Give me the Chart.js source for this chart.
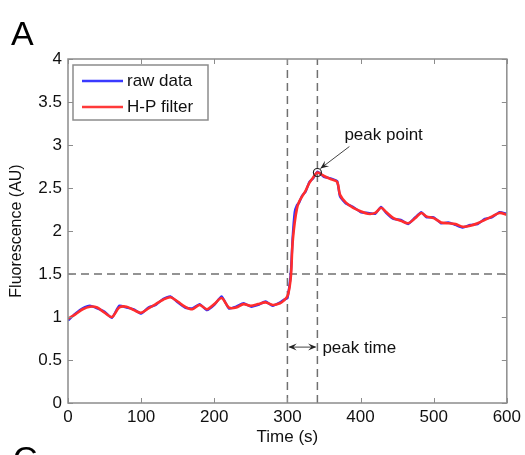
<!DOCTYPE html>
<html>
<head>
<meta charset="utf-8">
<script src="https://cdn.jsdelivr.net/npm/chart.js@4/dist/chart.umd.min.js"></script>
<style>
  html, body { margin: 0; padding: 0; background: #fff; }
  #wrap { width: 525px; height: 455px; position: relative; }
</style>
</head>
<body>
<div id="wrap"><canvas id="fluoChart" width="525" height="455"></canvas></div>
<script>
// * data
const timeS = [0, 10, 20, 30, 40, 50, 60, 70, 80, 90, 100, 110, 120, 130, 140, 150, 160, 170, 180, 190, 200, 210, 220, 230, 240, 250, 260, 270, 280, 290, 295, 300, 303, 305, 307, 310, 313, 316, 320, 325, 330, 335, 341, 350, 360, 368, 372, 380, 390, 400, 410, 420, 428, 435, 445, 455, 465, 475, 483, 490, 500, 510, 520, 530, 540, 550, 560, 570, 580, 590, 600];
const rawData = [0.96, 1.04, 1.10, 1.13, 1.10, 1.06, 0.99, 1.13, 1.11, 1.09, 1.04, 1.11, 1.14, 1.21, 1.24, 1.17, 1.11, 1.10, 1.15, 1.08, 1.14, 1.24, 1.10, 1.12, 1.16, 1.12, 1.14, 1.18, 1.13, 1.17, 1.20, 1.22, 1.38, 1.55, 1.90, 2.22, 2.30, 2.33, 2.41, 2.46, 2.57, 2.61, 2.69, 2.63, 2.61, 2.58, 2.40, 2.32, 2.28, 2.22, 2.21, 2.20, 2.28, 2.21, 2.14, 2.13, 2.08, 2.16, 2.22, 2.16, 2.16, 2.09, 2.10, 2.07, 2.04, 2.07, 2.08, 2.14, 2.16, 2.22, 2.20];
const hpFilter = [0.98, 1.03, 1.09, 1.12, 1.11, 1.05, 1.00, 1.11, 1.12, 1.08, 1.05, 1.10, 1.15, 1.20, 1.23, 1.18, 1.12, 1.09, 1.14, 1.09, 1.15, 1.22, 1.11, 1.11, 1.15, 1.13, 1.15, 1.17, 1.14, 1.16, 1.19, 1.24, 1.35, 1.50, 1.85, 2.10, 2.26, 2.34, 2.40, 2.47, 2.56, 2.62, 2.68, 2.64, 2.60, 2.57, 2.42, 2.33, 2.27, 2.23, 2.20, 2.21, 2.27, 2.22, 2.15, 2.12, 2.09, 2.15, 2.21, 2.17, 2.15, 2.10, 2.09, 2.08, 2.05, 2.06, 2.09, 2.13, 2.17, 2.21, 2.19];
const xTicks = [0, 100, 200, 300, 400, 500, 600];
const yTicks = [0, 0.5, 1, 1.5, 2, 2.5, 3, 3.5, 4];
const seriesNames = ["raw data", "H-P filter"];
const thresholdY = 1.5;
const stimTime = 300;
const peakTime = 341;
const peakValue = 2.68;

const FONT = "'Liberation Sans', Arial, sans-serif";
const axisGrey = "#8c8c8c";
const dashGrey = "#707070";

const toPts = (ys) => timeS.map((t, i) => ({ x: t, y: ys[i] }));
const dashStyle = {
  borderColor: dashGrey,
  borderWidth: 1.5,
  borderDash: [8, 5],
  pointRadius: 0,
  fill: false,
  order: 3,
};

// ? dashed guides, peak marker and text labels
const extrasPlugin = {
  id: "extras",
  afterDraw(chart) {
    const { ctx, chartArea: a, scales } = chart;
    const xs = scales.x, ys = scales.y;
    ctx.save();

    // box + inward ticks
    ctx.strokeStyle = axisGrey;
    ctx.lineWidth = 1.5;
    ctx.strokeRect(a.left, a.top, a.right - a.left, a.bottom - a.top);
    ctx.lineWidth = 1;
    xTicks.forEach((t) => {
      const px = Math.round(xs.getPixelForValue(t)) + 0.5;
      ctx.beginPath();
      ctx.moveTo(px, a.bottom); ctx.lineTo(px, a.bottom - 5);
      ctx.moveTo(px, a.top); ctx.lineTo(px, a.top + 5);
      ctx.stroke();
    });
    yTicks.forEach((v) => {
      const py = Math.round(ys.getPixelForValue(v)) + 0.5;
      ctx.beginPath();
      ctx.moveTo(a.left, py); ctx.lineTo(a.left + 5, py);
      ctx.moveTo(a.right, py); ctx.lineTo(a.right - 5, py);
      ctx.stroke();
    });

    // panel letters
    ctx.fillStyle = "#000";
    ctx.font = "34px " + FONT;
    ctx.textBaseline = "alphabetic";
    ctx.textAlign = "left";
    ctx.fillText("A", 11, 45);
    ctx.fillText("C", 13, 470);

    // legend
    const lx = a.left + 5, ly = a.top + 6;
    ctx.fillStyle = "#fff";
    ctx.fillRect(lx, ly, 135, 55);
    ctx.strokeStyle = axisGrey;
    ctx.lineWidth = 1.5;
    ctx.strokeRect(lx, ly, 135, 55);
    const legColors = ["#3a3aff", "#ff3a3a"];
    ctx.font = "17px " + FONT;
    ctx.textBaseline = "middle";
    seriesNames.forEach((name, i) => {
      const yy = ly + 16 + i * 26;
      ctx.strokeStyle = legColors[i];
      ctx.lineWidth = 2.5;
      ctx.beginPath();
      ctx.moveTo(lx + 9, yy); ctx.lineTo(lx + 50, yy);
      ctx.stroke();
      ctx.fillStyle = "#111";
      ctx.fillText(name, lx + 54, yy);
    });

    // peak point arrow
    const pkx = xs.getPixelForValue(peakTime);
    const pky = ys.getPixelForValue(peakValue);
    const drawHead = (x0, y0, x1, y1) => {
      const ang = Math.atan2(y1 - y0, x1 - x0);
      ctx.beginPath();
      ctx.moveTo(x1, y1);
      ctx.lineTo(x1 - 9 * Math.cos(ang - 0.4), y1 - 9 * Math.sin(ang - 0.4));
      ctx.lineTo(x1 - 5 * Math.cos(ang), y1 - 5 * Math.sin(ang));
      ctx.lineTo(x1 - 9 * Math.cos(ang + 0.4), y1 - 9 * Math.sin(ang + 0.4));
      ctx.closePath();
      ctx.fill();
    };
    ctx.strokeStyle = "#444";
    ctx.fillStyle = "#222";
    ctx.lineWidth = 1;
    ctx.beginPath();
    ctx.moveTo(pkx + 32, pky - 26);
    ctx.lineTo(pkx + 3, pky - 4);
    ctx.stroke();
    drawHead(pkx + 32, pky - 26, pkx + 3, pky - 4);
    ctx.fillStyle = "#111";
    ctx.font = "17px " + FONT;
    ctx.textBaseline = "middle";
    ctx.fillText("peak point", pkx + 27, pky - 37);

    // peak time double arrow
    const sx = xs.getPixelForValue(stimTime);
    const ay = ys.getPixelForValue(0.65);
    ctx.strokeStyle = "#444";
    ctx.fillStyle = "#222";
    ctx.beginPath();
    ctx.moveTo(sx + 2, ay); ctx.lineTo(pkx - 2, ay);
    ctx.stroke();
    drawHead(pkx - 10, ay, sx + 1, ay);
    drawHead(sx + 10, ay, pkx - 1, ay);
    ctx.fillStyle = "#111";
    ctx.fillText("peak time", pkx + 5, ay + 1);

    ctx.restore();
  },
};

const ctx = document.getElementById("fluoChart").getContext("2d");
const fluoChart = new Chart(ctx, {
  type: "line",
  data: {
    datasets: [
      {
        label: seriesNames[1],
        data: toPts(hpFilter),
        borderColor: "#ff2d2d",
        borderWidth: 2.6,
        pointRadius: 0,
        tension: 0.3,
        order: 0,
      },
      {
        label: seriesNames[0],
        data: toPts(rawData),
        borderColor: "#2f2fff",
        borderWidth: 2.4,
        pointRadius: 0,
        tension: 0.15,
        order: 1,
      },
      {
        label: "peak",
        data: [{ x: peakTime, y: peakValue }],
        showLine: false,
        pointRadius: 4,
        pointBorderColor: "#222",
        pointBorderWidth: 1.2,
        pointBackgroundColor: "rgba(0,0,0,0)",
        order: -1,
      },
      { ...dashStyle, data: [{ x: 0, y: thresholdY }, { x: 600, y: thresholdY }] },
      { ...dashStyle, data: [{ x: stimTime, y: 0 }, { x: stimTime, y: 4 }] },
      { ...dashStyle, data: [{ x: peakTime, y: 0 }, { x: peakTime, y: 4 }] },
    ],
  },
  options: {
    responsive: false,
    animation: false,
    layout: { padding: { top: 59, right: 17, left: 0, bottom: 0 } },
    plugins: { legend: { display: false }, tooltip: { enabled: false } },
    scales: {
      x: {
        type: "linear",
        min: 0,
        max: 600,
        afterBuildTicks: (s) => { s.ticks = xTicks.map((v) => ({ value: v })); },
        afterFit: (s) => { s.height = 52; },
        grid: { display: false, drawTicks: false },
        border: { display: false },
        ticks: { color: "#111", font: { family: FONT, size: 17 }, padding: 4, maxRotation: 0, callback: (v) => String(v) },
        title: { display: true, text: "Time (s)", color: "#111", font: { family: FONT, size: 17 }, padding: { top: 0, bottom: 7 } },
      },
      y: {
        min: 0,
        max: 4,
        afterBuildTicks: (s) => { s.ticks = yTicks.map((v) => ({ value: v })); },
        afterFit: (s) => { s.width = 68; },
        grid: { display: false, drawTicks: false },
        border: { display: false },
        ticks: { color: "#111", font: { family: FONT, size: 17 }, padding: 6, callback: (v) => String(v) },
        title: { display: true, text: "Fluorescence (AU)", color: "#111", font: { family: FONT, size: 16 }, padding: { top: 7, bottom: 0 } },
      },
    },
  },
  plugins: [extrasPlugin],
});
</script>
</body>
</html>
